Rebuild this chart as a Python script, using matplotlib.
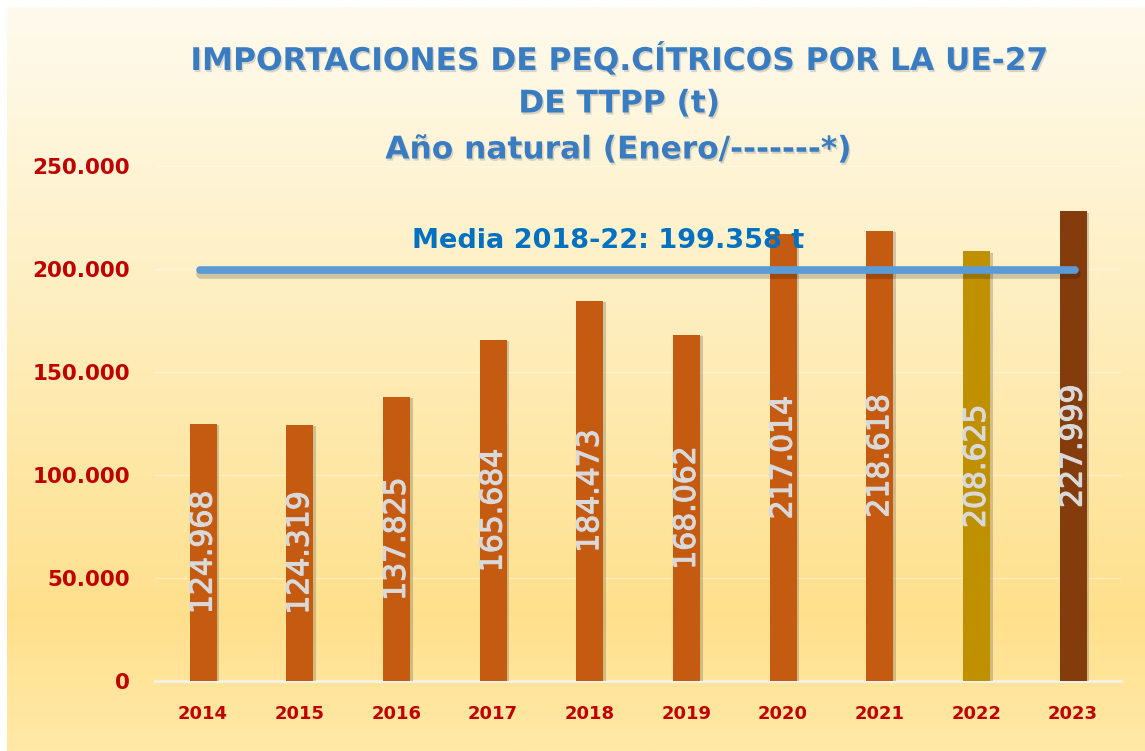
import numpy as np
import matplotlib.pyplot as plt
import matplotlib.patheffects as pe
from matplotlib.colors import LinearSegmentedColormap

years = ["2014", "2015", "2016", "2017", "2018", "2019", "2020", "2021", "2022", "2023"]
values = [124968, 124319, 137825, 165684, 184473, 168062, 217014, 218618, 208625, 227999]
bar_colors = ["#C55A11"] * 8 + ["#BF9000", "#843C0C"]
media = 199358
ytick_vals = [0, 50000, 100000, 150000, 200000, 250000]
ytick_labels = ["0", "50.000", "100.000", "150.000", "200.000", "250.000"]

W, H = 1145, 751
fig = plt.figure(figsize=(W / 100, H / 100), dpi=100)
fig.patch.set_facecolor("white")

# background gradient panel
bg = fig.add_axes([7 / W, 0, 1 - 7 / W, 1 - 7 / H], zorder=-2)
cmap = LinearSegmentedColormap.from_list(
    "bg", [(0, "#FFFAED"), (0.3, "#FEF2CC"), (0.82, "#FFE08C"), (1, "#FFE9A8")])
grad = np.linspace(0, 1, 256).reshape(-1, 1)
bg.imshow(grad, aspect="auto", cmap=cmap, extent=[0, 1, 1, 0])
bg.axis("off")

# main axes
ax = fig.add_axes([154.7 / W, 70 / H, 966.7 / W, 515 / H])
ax.set_facecolor("none")
x = np.arange(len(years))
bars = ax.bar(x, values, width=0.28, color=bar_colors, zorder=3)
for b in bars:
    b.set_path_effects([pe.SimplePatchShadow(offset=(2, -1), alpha=0.25, shadow_rgbFace="#444444"),
                        pe.Normal()])

ax.set_xlim(-0.5, len(years) - 0.5)
ax.set_ylim(0, 250000)
ax.set_yticks(ytick_vals)
ax.set_yticklabels(ytick_labels)
ax.set_xticks(x)
ax.set_xticklabels(years)
ax.tick_params(axis="y", length=0, pad=18, labelsize=15.5, labelcolor="#C00000")
ax.tick_params(axis="x", length=0, pad=17, labelsize=13, labelcolor="#C00000")
for lab in ax.get_xticklabels() + ax.get_yticklabels():
    lab.set_fontweight("bold")
for s in ["top", "right", "left"]:
    ax.spines[s].set_visible(False)
ax.spines["bottom"].set_color("#F4F1EA")
ax.spines["bottom"].set_linewidth(2)
ax.grid(axis="y", color="white", alpha=0.35, linewidth=1, zorder=0)
ax.set_axisbelow(True)

# value labels inside bars
for xi, v in zip(x, values):
    ax.text(xi, v / 2, f"{v:,}".replace(",", "."), rotation=90, ha="center", va="center",
            color="#D9D9D9", fontsize=21.5, zorder=5,
            path_effects=[pe.Stroke(linewidth=0.8, foreground="#D9D9D9"), pe.Normal()])

# mean line
ax.plot([-0.03, 9.02], [media, media], color="#5B9BD5", linewidth=5.5,
        solid_capstyle="round", zorder=4,
        path_effects=[pe.SimpleLineShadow(offset=(0.5, -2.5), alpha=0.18, linewidth=7), pe.Normal()])
ax.text(4.19, 213800, f"Media 2018-22: {media:,} t".replace(",", "."), ha="center", va="center",
        color="#0070C0", fontsize=19.5, fontweight="bold", zorder=6)

# title
title_lines = ["IMPORTACIONES DE PEQ.CÍTRICOS POR LA UE-27", "DE TTPP (t)", "Año natural (Enero/-------*)"]
for line, ypix in zip(title_lines, [60, 104, 150]):
    fig.text(619 / W, 1 - ypix / H, line, ha="center", va="center", color="#3A7CC2",
             fontsize=22.5, fontweight="bold",
             path_effects=[pe.withSimplePatchShadow(offset=(1, -1.5), alpha=0.22,
                                                    shadow_rgbFace="#555555")])

fig.savefig("out.png", dpi=100)
